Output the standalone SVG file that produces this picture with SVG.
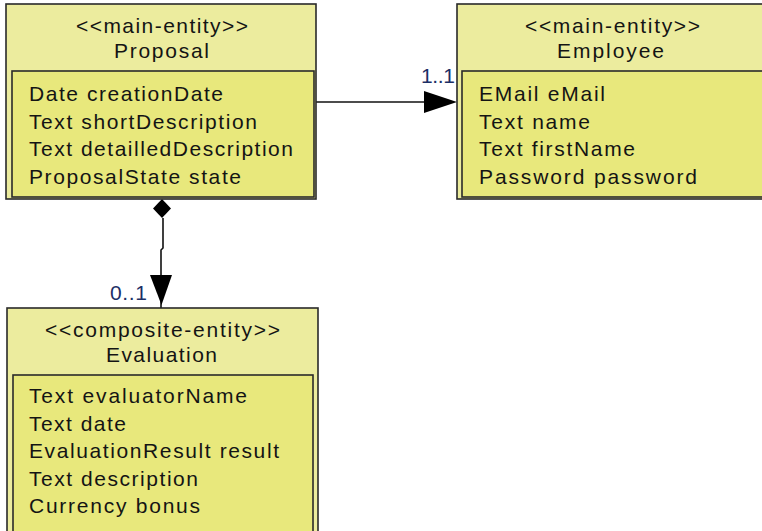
<svg xmlns="http://www.w3.org/2000/svg" width="762" height="531" viewBox="0 0 762 531">
<defs>
<style>
.outer{fill:#ECEC9E;stroke:#2a2a2a;stroke-width:1.6}
.inner{fill:#E8E87C;stroke:#2a2a2a;stroke-width:1.6}
text{font-family:"Liberation Sans",Arial,sans-serif;font-size:21px;fill:#141414}
.mult{fill:#1c2f66}
.conn{fill:none;stroke:#111;stroke-width:1.6}
.head{fill:#000}
</style>
</defs>
<rect x="0" y="0" width="762" height="531" fill="#fff"/>
<g id="connectors">
<line class="conn" x1="316" y1="102" x2="428" y2="102"/>
<polygon class="head" points="424,91 457,102 424,113"/>
<text class="mult" x="421" y="83" textLength="34" lengthAdjust="spacing">1..1</text>
<polygon class="head" points="162,199 171,208.5 162,218 153,208.5"/>
<polyline class="conn" points="163,218 163,248 161,250 161,308"/>
<polygon class="head" points="150,275 172,275 161.5,305"/>
<text class="mult" x="110" y="300" textLength="37" lengthAdjust="spacing">0..1</text>
</g>
<g id="proposal">
<rect class="outer" x="6" y="4" width="310" height="195"/>
<rect class="inner" x="12" y="71" width="302" height="126"/>
<text x="76" y="33" textLength="172" lengthAdjust="spacing">&lt;&lt;main-entity&gt;&gt;</text>
<text x="114" y="58" textLength="95" lengthAdjust="spacing">Proposal</text>
<text x="29" y="101" textLength="194" lengthAdjust="spacing">Date creationDate</text>
<text x="29" y="128.5" textLength="228" lengthAdjust="spacing">Text shortDescription</text>
<text x="29" y="156" textLength="264" lengthAdjust="spacing">Text detailledDescription</text>
<text x="29" y="183.5" textLength="212" lengthAdjust="spacing">ProposalState state</text>
</g>
<g id="employee">
<rect class="outer" x="457" y="4" width="320" height="195"/>
<rect class="inner" x="462" y="71" width="310" height="126"/>
<text x="525" y="33" textLength="175" lengthAdjust="spacing">&lt;&lt;main-entity&gt;&gt;</text>
<text x="557" y="58" textLength="107" lengthAdjust="spacing">Employee</text>
<text x="479" y="101" textLength="126" lengthAdjust="spacing">EMail eMail</text>
<text x="479" y="128.5" textLength="111" lengthAdjust="spacing">Text name</text>
<text x="479" y="156" textLength="156" lengthAdjust="spacing">Text firstName</text>
<text x="479" y="183.5" textLength="218" lengthAdjust="spacing">Password password</text>
</g>
<g id="evaluation">
<rect class="outer" x="7" y="308" width="311" height="240"/>
<rect class="inner" x="13" y="375" width="300" height="200"/>
<text x="45" y="337" textLength="235" lengthAdjust="spacing">&lt;&lt;composite-entity&gt;&gt;</text>
<text x="106" y="362" textLength="111" lengthAdjust="spacing">Evaluation</text>
<text x="29" y="403" textLength="218" lengthAdjust="spacing">Text evaluatorName</text>
<text x="29" y="430.5" textLength="97" lengthAdjust="spacing">Text date</text>
<text x="29" y="458" textLength="250" lengthAdjust="spacing">EvaluationResult result</text>
<text x="29" y="485.5" textLength="169" lengthAdjust="spacing">Text description</text>
<text x="29" y="513" textLength="171" lengthAdjust="spacing">Currency bonus</text>
</g>
</svg>
